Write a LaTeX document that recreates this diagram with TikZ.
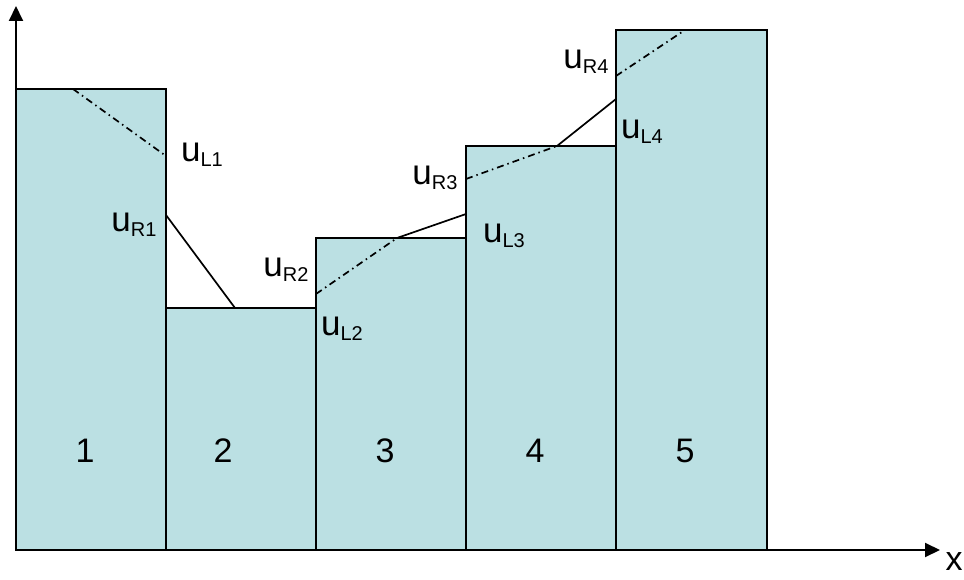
\documentclass[tikz,border=0pt]{standalone}
\usepackage{fontspec}
\setmainfont{Liberation Sans}
\usetikzlibrary{arrows.meta}
\definecolor{barfill}{RGB}{187,224,227}
\newcommand{\uval}[1]{\fontsize{35}{35}\selectfont u\raisebox{-5pt}{\fontsize{20}{20}\selectfont #1}}
\tikzset{
  barbox/.style={draw=black, line width=2pt, fill=barfill},
  recon/.style={draw=black, line width=1.7pt},
  slopeline/.style={draw=black, line width=1.7pt, dash pattern=on 7pt off 4pt on 1.5pt off 4pt},
  axis/.style={draw=black, line width=2pt, -{Triangle[length=15pt,width=14pt]}},
  ulabel/.style={inner sep=0pt, anchor=center},
  numlabel/.style={inner sep=0pt, font=\fontsize{34}{34}\selectfont}
}
\begin{document}
\begin{tikzpicture}[x=1pt,y=-1pt]
\useasboundingbox (0,0) rectangle (964,580);
% bars
\draw[barbox] (16,550) rectangle (166,89);
\draw[barbox] (166,550) rectangle (316,308);
\draw[barbox] (316,550) rectangle (466,238);
\draw[barbox] (466,550) rectangle (616,146);
\draw[barbox] (616,550) rectangle (767,30);
% reconstruction segments
\coordinate (a1) at (73,89);   \coordinate (a2) at (166,156);
\coordinate (b1) at (166,215); \coordinate (b2) at (235,308);
\coordinate (c1) at (316,294); \coordinate (c2) at (397,238);
\coordinate (c3) at (466,214);
\coordinate (d1) at (466,179); \coordinate (d2) at (557,146);
\coordinate (d3) at (616,99);
\coordinate (e1) at (616,76);  \coordinate (e2) at (685,30);
\draw[slopeline] (a1) -- (a2);
\draw[recon] (b1) -- (b2);
\draw[slopeline] (c1) -- (c2);
\draw[recon] (c2) -- (c3);
\draw[slopeline] (d1) -- (d2);
\draw[recon] (d2) -- (d3);
\draw[slopeline] (e1) -- (e2);
% axes
\coordinate (o) at (16,550);
\coordinate (ytip) at (16,6);
\coordinate (xtip) at (940,550);
\draw[axis] (o) -- (ytip);
\draw[axis] (o) -- (xtip);
% labels
\node[ulabel] (uL1) at (202,155) {\uval{L1}};
\node[ulabel] (uR1) at (134,225) {\uval{R1}};
\node[ulabel] (uR2) at (286,270) {\uval{R2}};
\node[ulabel] (uL2) at (342,329) {\uval{L2}};
\node[ulabel] (uR3) at (435,178) {\uval{R3}};
\node[ulabel] (uL3) at (504,236) {\uval{L3}};
\node[ulabel] (uL4) at (642,132) {\uval{L4}};
\node[ulabel] (uR4) at (586,62) {\uval{R4}};
\node[numlabel] (n1) at (85,451) {1};
\node[numlabel] (n2) at (223,451) {2};
\node[numlabel] (n3) at (385,451) {3};
\node[numlabel] (n4) at (535,451) {4};
\node[numlabel] (n5) at (685,451) {5};
\node[numlabel] (xl) at (954,562) {x};
\end{tikzpicture}
\end{document}
